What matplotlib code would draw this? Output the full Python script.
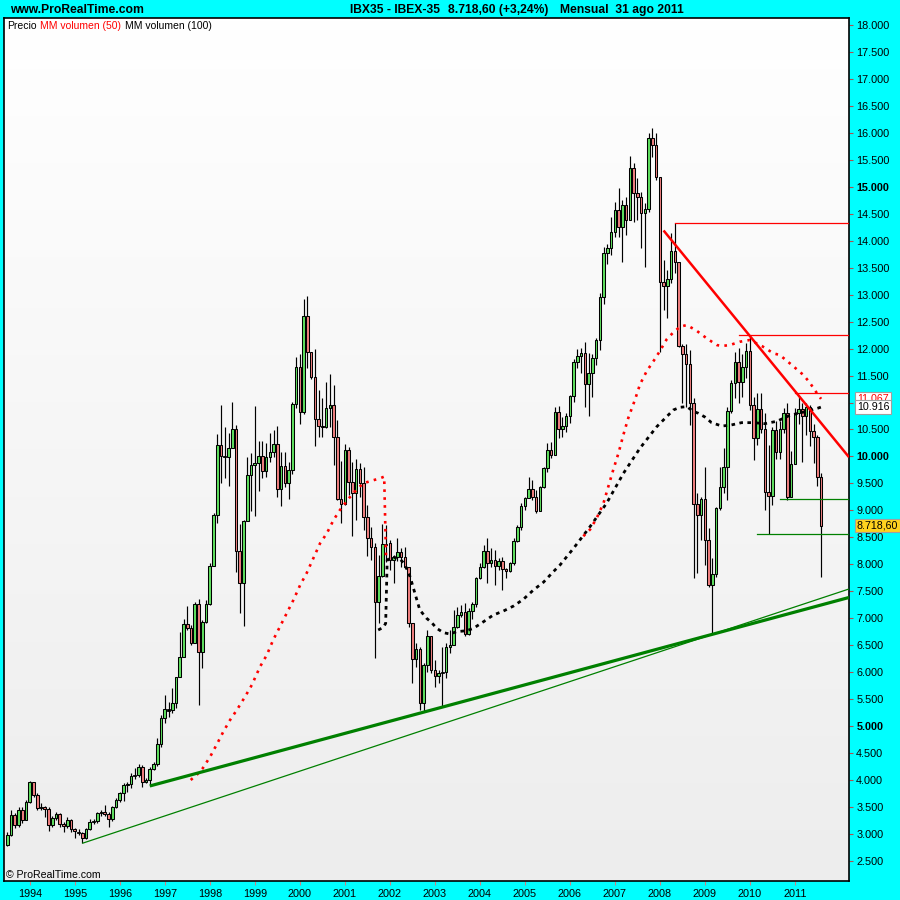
import numpy as np
import pandas as pd
import matplotlib
matplotlib.use("Agg")
import matplotlib.pyplot as plt
from matplotlib.colors import LinearSegmentedColormap
from matplotlib.transforms import blended_transform_factory

plt.rcParams['font.family'] = ['Liberation Sans', 'DejaVu Sans']

# ---------------- data ----------------
months = pd.period_range('1993-07', '2011-08', freq='M')
first_open = 2796
close = [2981, 3352, 3167, 3445, 3259, 3599,
         3970, 3723, 3476, 3507, 3457, 3167, 3290, 3371, 3185, 3148, 3259, 3086,
         3049, 3025, 2932, 3086, 3229, 3247, 3383, 3414, 3371, 3272, 3507, 3630,
         3754, 3902, 3927, 4080, 4093, 4250, 3970, 4010, 4204, 4297, 4668, 5144,
         5311, 5298, 5422, 5904, 6287, 6887, 6813, 6535, 7264, 6368, 6937, 7264,
         7969, 8908, 10212, 10015, 9996, 10151, 10503, 8253, 7660, 8809, 9656, 9842,
         9872, 10008, 9736, 9996, 10076, 10231, 9390, 9823, 9514, 9749, 10973, 11653,
         10831, 12604, 11943, 11467, 10688, 10571, 10540, 10905, 10948, 10367, 9217, 9118,
         10113, 9530, 9316, 9761, 9501, 8871, 8481, 8314, 7307, 7783, 8370, 8388,
         8079, 8129, 8234, 8141, 7943, 6905, 6237, 6423, 5422, 6132, 6676, 6040,
         5928, 5990, 6009, 6472, 6503, 6843, 7060, 7121, 6707, 7134, 7263, 7739,
         7943, 8252, 8018, 8079, 7968, 8067, 7913, 7882, 8018, 8432, 8685, 9081,
         9223, 9390, 9254, 8994, 9427, 9779, 10119, 10026, 10831, 10503, 10565, 10750,
         11121, 11758, 11863, 11925, 11338, 11554, 11832, 12159, 12963, 13779, 13859, 14168,
         14570, 14261, 14663, 14385, 15343, 14892, 14817, 14508, 14583, 15899, 15775, 15188,
         13241, 13167, 13284, 13810, 13612, 12054, 11894, 11714, 10985, 9119, 8914, 9205,
         8451, 7617, 7815, 9038, 9428, 9799, 10849, 11369, 11757, 11386, 11665, 11955,
         10954, 10336, 10874, 10503, 9347, 9267, 10499, 10087, 10514, 10812, 9255, 9860,
         10812, 10874, 10750, 10911, 10478, 10355, 9626, 8718.6]
high = [3043, 3445, 3383, 3507, 3507, 3630,
        3989, 3970, 3754, 3568, 3519, 3507, 3334, 3414, 3383, 3229, 3309, 3272,
        3105, 3086, 3043, 3105, 3272, 3272, 3414, 3445, 3538, 3414, 3519, 3661,
        3785, 3939, 3970, 4125, 4217, 4298, 4279, 4032, 4248, 4341, 4773, 5206,
        5577, 5453, 5700, 5917, 6751, 6979, 7227, 6875, 7307, 7350, 6967, 7338,
        8018, 8945, 10417, 10954, 10553, 10429, 11016, 10584, 8748, 8830, 9984, 10071,
        10936, 10287, 10287, 10245, 10441, 10491, 10565, 10089, 10089, 9905, 11016, 11838,
        11900, 12913, 12975, 11943, 11986, 11232, 11078, 11387, 11529, 11325, 10676, 9915,
        10230, 10180, 9903, 9946, 9872, 9810, 9100, 8698, 8389, 8172, 8741, 8729,
        8450, 8172, 8481, 8296, 8327, 7925, 6905, 6534, 6470, 6164, 6782, 6670,
        6225, 6040, 6472, 6534, 6782, 7152, 7214, 7245, 7276, 7183, 7307, 7770,
        8018, 8358, 8481, 8296, 8265, 8110, 8141, 7925, 8048, 8481, 8729, 9130,
        9254, 9625, 9563, 9377, 9452, 9810, 10243, 10274, 10923, 10936, 10738, 10800,
        11140, 11801, 11986, 12005, 12129, 11912, 11900, 12200, 13025, 13890, 13940, 14446,
        14725, 14972, 14755, 14817, 15571, 15435, 15157, 14910, 14694, 15992, 16084, 15992,
        15157, 13643, 13457, 14137, 14323, 13612, 12085, 12085, 11974, 11078, 9328, 9254,
        9811, 8668, 8111, 9069, 9811, 10151, 10924, 11420, 11943, 12020, 11900, 12100,
        12222, 11109, 11171, 11171, 10800, 10213, 10550, 10650, 10650, 10893, 10985, 10100,
        10893, 11100, 11000, 11000, 10950, 10600, 10400, 9700]
low = [2777, 2963, 3105, 3136, 3198, 3259,
       3581, 3692, 3445, 3445, 3321, 3062, 3136, 3259, 3136, 3043, 3105, 3043,
       2919, 2981, 2827, 2901, 3074, 3185, 3198, 3334, 3334, 3136, 3247, 3476,
       3599, 3618, 3785, 3846, 4013, 4051, 3877, 3952, 3890, 4187, 4260, 4620,
       5051, 5175, 5237, 5330, 5947, 6287, 6780, 6504, 6535, 5391, 6071, 6905,
       7240, 7987, 8772, 9502, 9595, 9452, 10190, 7864, 7091, 6863, 8800, 8995,
       8896, 9366, 9595, 9620, 9900, 9985, 9242, 9088, 9440, 9205, 9675, 10893,
       10600, 10780, 11634, 11430, 10194, 10367, 10355, 10530, 10553, 9842, 9190, 8759,
       9100, 9285, 8524, 8821, 9254, 8636, 8154, 8079, 6256, 6905, 7770, 8048,
       7894, 7647, 8070, 7956, 7925, 6843, 5792, 6100, 5300, 5266, 6000, 5980,
       5731, 5792, 5364, 5900, 6349, 6782, 6812, 7028, 6670, 6688, 6991, 7214,
       7721, 7925, 7647, 7956, 7616, 7894, 7523, 7740, 7863, 7987, 8420, 8636,
       9007, 9223, 9192, 8945, 8994, 9408, 9717, 9965, 10026, 10336, 10367, 10460,
       10614, 11016, 11634, 11554, 10923, 10750, 11109, 11696, 11974, 12827, 13569, 13736,
       14076, 14076, 13612, 14106, 14385, 14354, 14385, 13859, 13520, 14539, 15559, 15127,
       11943, 12716, 12574, 13210, 13396, 12030, 10985, 10923, 10583, 7740, 7833, 8451,
       7987, 7586, 6702, 7771, 9007, 9317, 9200, 10800, 11077, 11000, 11100, 11450,
       10870, 9935, 10213, 10429, 9000, 8560, 9100, 9950, 9950, 10429, 9200, 9300,
       9873, 10600, 9900, 10400, 10200, 9870, 9450, 7770]

# volume moving averages as drawn on the price scale (decimal years, values)
ma50_a_t = [1997.575, 1997.708, 1997.842, 1998.008, 1998.167, 1998.300, 1998.450, 1998.600,
            1998.783, 1998.933, 1999.117, 1999.267, 1999.408, 1999.558, 1999.708, 1999.858,
            2000.008, 2000.150, 2000.300, 2000.450, 2000.600, 2000.750, 2000.892, 2001.075,
            2001.225, 2001.408, 2001.600, 2001.783, 2001.875, 2001.917]
ma50_a_v = [4001, 4094, 4217, 4433, 4680, 4896, 5113, 5298, 5545, 5762, 6102, 6319, 6597,
            6843, 7091, 7338, 7616, 7833, 8111, 8389, 8574, 8822, 9007, 9210, 9348, 9502,
            9551, 9595, 9626, 8080]
ma50_b_t = [2006.300, 2006.450, 2006.600, 2006.750, 2006.858, 2006.967, 2007.083, 2007.192,
            2007.300, 2007.450, 2007.558, 2007.708, 2007.858, 2008.000, 2008.150, 2008.300,
            2008.450, 2008.600, 2008.817, 2009.042, 2009.267, 2009.375, 2009.558, 2009.783,
            2010.000, 2010.267, 2010.525, 2010.667, 2010.933, 2011.192, 2011.333, 2011.483,
            2011.583]
ma50_b_v = [8521, 8645, 8861, 9139, 9448, 9757, 10066, 10406, 10715, 11056, 11334, 11581,
            11766, 11952, 12169, 12300, 12406, 12437, 12332, 12190, 12066, 12048, 12066,
            12128, 12159, 12048, 11912, 11881, 11696, 11510, 11368, 11183, 11067]
ma100_t = [2001.742, 2001.858, 2001.908, 2001.942, 2002.000, 2002.092, 2002.225, 2002.333,
           2002.450, 2002.558, 2002.667, 2002.817, 2002.933, 2003.042, 2003.192, 2003.333,
           2003.483, 2003.708, 2003.858, 2004.083, 2004.300, 2004.525, 2004.750, 2004.967,
           2005.192, 2005.417, 2005.633, 2005.783, 2006.083, 2006.450, 2006.817, 2007.192,
           2007.558, 2007.933, 2008.300, 2008.450, 2008.600, 2008.742, 2008.858, 2009.000,
           2009.150, 2009.375, 2009.558, 2009.817, 2010.075, 2010.333, 2010.600, 2010.892,
           2011.267, 2011.525, 2011.583]
ma100_v = [6782, 6832, 6906, 8080, 8111, 8130, 8100, 8000, 7771, 7463, 7153, 7000, 6917,
           6813, 6733, 6708, 6751, 6769, 6813, 6936, 7060, 7134, 7227, 7351, 7524, 7670,
           7863, 7988, 8297, 8699, 9132, 9688, 10152, 10553, 10862, 10912, 10924, 10837,
           10800, 10732, 10627, 10565, 10578, 10627, 10627, 10608, 10652, 10763, 10837,
           10899, 10916]

# trend lines (month, price) anchors
thick_green = [('1996-09', 3890), ('2009-03', 6702)]
thin_green = [('1995-03', 2827), ('2009-03', 6702)]
red_trend = [('2008-02', 14190), ('2010-01', 12235)]
red_levels = [14323, 12252, 11171]
red_level_start = ['2008-05', '2009-10', '2011-01']
green_levels = [9206, 8557]
green_level_start = ['2010-09', '2010-03']

y_ticks = list(range(2500, 18001, 500))
years = list(range(1994, 2012))
last_label = '8.718,60'
ma50_label = '11.067'
ma100_label = '10.916'

# ---------------- figure ----------------
W = H = 900
fig = plt.figure(figsize=(9, 9), dpi=100, facecolor='#00FFFF')
ax = fig.add_axes([4 / W, (900 - 881) / H, 845 / W, 863 / H])
X0, X1 = 1993.4267, 2012.204
Y0, Y1 = 2128, 18130
ax.set_xlim(X0, X1)
ax.set_ylim(Y0, Y1)

def mpos(s):
    p = pd.Period(s, freq='M')
    return p.year + (p.month - 1) / 12

cmap = LinearSegmentedColormap.from_list('bg', ['#FFFFFF', '#EDEDED'])
ax.imshow(np.linspace(0, 1, 256).reshape(-1, 1), cmap=cmap, extent=[X0, X1, Y0, Y1],
          aspect='auto', origin='upper', zorder=0)

x = np.array([p.year + (p.month - 1) / 12 for p in months])
c = np.array(close, float)
o = np.concatenate([[first_open], c[:-1]])
hi = np.maximum(np.array(high, float), np.maximum(o, c))
lo = np.minimum(np.array(low, float), np.minimum(o, c))

ax.vlines(x, lo, hi, color='black', lw=0.85, zorder=2)
w = 0.058
for xi, oi, ci in zip(x, o, c):
    bottom = min(oi, ci)
    h = abs(ci - oi)
    if h < 25:
        ax.bar(xi, 25, w, bottom=bottom - 12, color='black', edgecolor='black', lw=0.6, zorder=3)
    else:
        fc = '#5FE05F' if ci > oi else '#F08080'
        ax.bar(xi, h, w, bottom=bottom, color=fc, edgecolor='black', lw=0.75, zorder=3)

# moving averages (dotted)
dot_b = (0, (1.3, 1.6))
ax.plot(ma100_t, ma100_v, color='black', lw=2.0, ls=dot_b, zorder=4, dash_capstyle='butt')
dot_r = (0, (1.0, 2.0))
ax.plot(ma50_a_t, ma50_a_v, color='#FF0000', lw=1.9, ls=dot_r, zorder=5, dash_capstyle='butt')
ax.plot(ma50_b_t, ma50_b_v, color='#FF0000', lw=1.9, ls=dot_r, zorder=5, dash_capstyle='butt')

def ext_line(pts, **kw):
    (s0, p0), (s1, p1) = pts
    t0, t1 = mpos(s0), mpos(s1)
    slope = (p1 - p0) / (t1 - t0)
    ax.plot([t0, X1], [p0, p0 + slope * (X1 - t0)], solid_capstyle='butt', **kw)

ext_line(thick_green, color='#008000', lw=2.3, zorder=6)
ext_line(thin_green, color='#008000', lw=0.9, zorder=6)
ext_line(red_trend, color='#FF0000', lw=1.8, zorder=6)
for lv, st in zip(red_levels, red_level_start):
    ax.plot([mpos(st), X1], [lv, lv], color='#FF0000', lw=0.9, zorder=6)
for lv, st in zip(green_levels, green_level_start):
    ax.plot([mpos(st), X1], [lv, lv], color='#008000', lw=0.9, zorder=6)

# axes styling
for sp in ax.spines.values():
    sp.set_color('black')
    sp.set_linewidth(1.2)
ax.yaxis.tick_right()
ax.set_yticks(y_ticks)
ax.set_yticklabels([f"{v:,}".replace(',', '.') for v in y_ticks])
for lab, v in zip(ax.get_yticklabels(), y_ticks):
    if v % 5000 == 0:
        lab.set_fontweight('bold')
        lab.set_fontsize(8.3)
ax.tick_params(axis='y', direction='out', length=3.2, width=0.8, color='#B05050',
               pad=2, labelsize=7.8, labelcolor='black')
ax.set_xticks(years)
ax.set_xticklabels([str(yv) for yv in years])
ax.tick_params(axis='x', direction='out', length=3.2, width=0.8, color='#D08080',
               pad=2.5, labelsize=7.8, labelcolor='black')

# header texts
fig.text(10 / W, 1 - 10 / H, 'www.ProRealTime.com', fontsize=8.7, fontweight='bold',
         va='center', ha='left')
fig.text(350 / W, 1 - 10 / H, 'IBX35 - IBEX-35', fontsize=8.7, fontweight='bold',
         va='center', ha='left')
fig.text(448 / W, 1 - 10 / H, '8.718,60 (+3,24%)', fontsize=8.7, fontweight='bold',
         va='center', ha='left')
fig.text(560 / W, 1 - 10 / H, 'Mensual  31 ago 2011', fontsize=8.7, fontweight='bold',
         va='center', ha='left')

# legend texts
fig.text(7 / W, 1 - 26 / H, 'Precio', fontsize=7.5, va='center', ha='left', color='black')
fig.text(39.5 / W, 1 - 26 / H, 'MM volumen (50)', fontsize=7.5, va='center', ha='left',
         color='#FF0000')
fig.text(125 / W, 1 - 26 / H, 'MM volumen (100)', fontsize=7.5, va='center', ha='left',
         color='black')
fig.text(6 / W, 1 - 875.5 / H, '\u00a9 ProRealTime.com', fontsize=7.6, va='center',
         ha='left', color='black')

# value boxes on the right scale (10.916 partly covers 11.067, as in the original)
tr = blended_transform_factory(ax.transAxes, ax.transData)
bx = 1 + 8 / 845
ax.text(bx, 11067, ma50_label, transform=tr, fontsize=7.7, color='#FF0000', va='center',
        ha='left', clip_on=False, zorder=20,
        bbox=dict(boxstyle='square,pad=0.18', fc='white', ec='#A0A0A0', lw=0.8))
ax.text(bx, 10916, ma100_label, transform=tr, fontsize=7.7, color='black', va='center',
        ha='left', clip_on=False, zorder=21,
        bbox=dict(boxstyle='square,pad=0.18', fc='white', ec='#A0A0A0', lw=0.8))
ax.text(bx, float(close[-1]), last_label, transform=tr, fontsize=7.7, color='black',
        va='center', ha='left', clip_on=False, zorder=22,
        bbox=dict(boxstyle='square,pad=0.18', fc='#FFD21F', ec='#A0A0A0', lw=0.8))

fig.savefig('out.png', dpi=100, facecolor=fig.get_facecolor())
